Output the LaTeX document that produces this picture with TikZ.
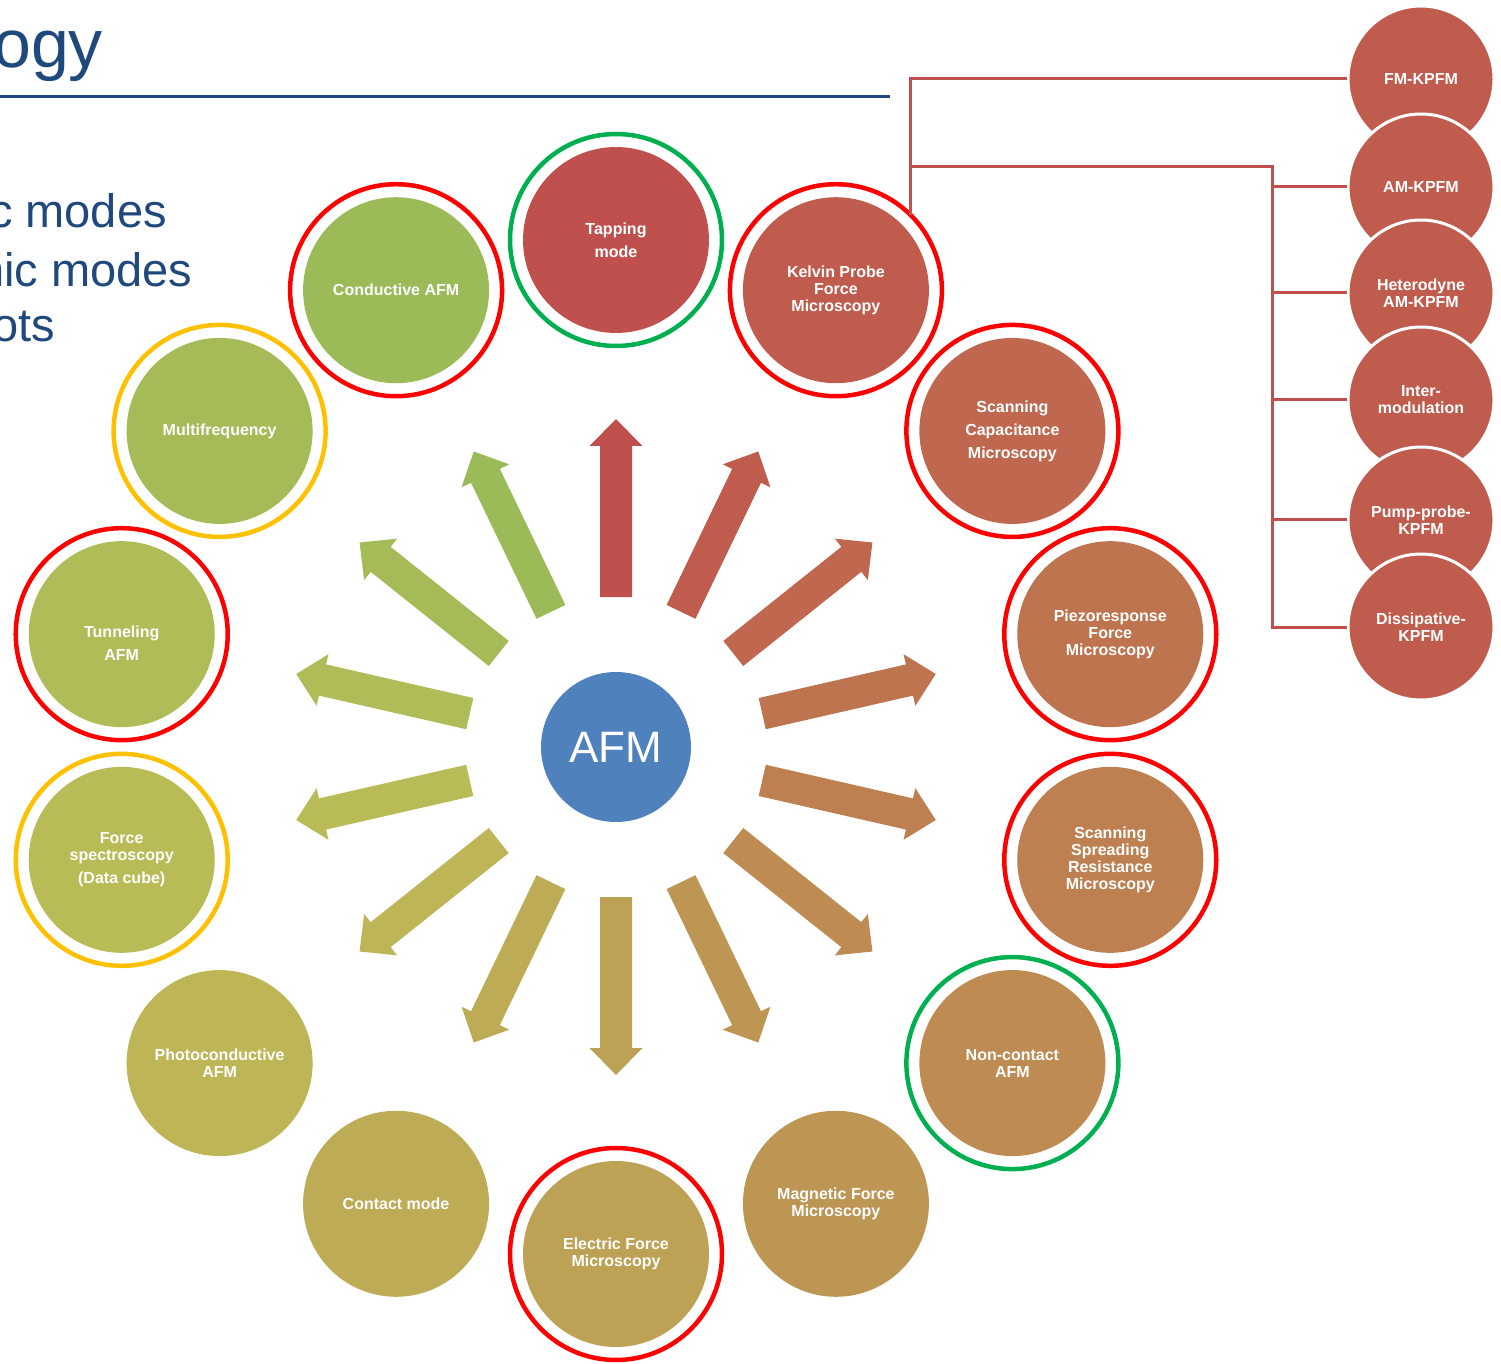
\documentclass[tikz,border=0pt]{standalone}
\usepackage{fontspec}
\setmainfont{Liberation Sans}
\usepackage{tikz}
\definecolor{tapcol}{HTML}{C0504D}
\definecolor{kelvincol}{HTML}{C05C4E}
\definecolor{scmcol}{HTML}{BF684F}
\definecolor{pfmcol}{HTML}{BF7450}
\definecolor{ssrmcol}{HTML}{BE8051}
\definecolor{nccol}{HTML}{BE8B52}
\definecolor{mfmcol}{HTML}{BE9653}
\definecolor{efmcol}{HTML}{BDA154}
\definecolor{contactcol}{HTML}{BDAB55}
\definecolor{photocol}{HTML}{BDB556}
\definecolor{forcecol}{HTML}{B9BC56}
\definecolor{tunnelcol}{HTML}{AFBC57}
\definecolor{multicol}{HTML}{A5BB58}
\definecolor{cafmcol}{HTML}{9BBB59}
\definecolor{ringred}{HTML}{FF0000}
\definecolor{ringgreen}{HTML}{00B050}
\definecolor{ringyellow}{HTML}{FFC000}
\definecolor{titleblue}{HTML}{1F497D}
\definecolor{afmblue}{HTML}{4F81BD}
\tikzset{
  mode/.style={circle,minimum size=186pt,inner sep=0pt,text=white,align=center,
    font=\fontsize{16}{17}\selectfont\bfseries},
  kpfm/.style={mode,minimum size=146pt,draw=white,line width=3pt},
  modering/.style={circle,minimum size=212pt,inner sep=0pt,outer sep=0pt,line width=4.5pt},
  link/.style={tapcol,line width=3pt},
}
\newcommand{\spoke}[2]{\fill[#1,rotate=#2] (150,-16) -- (301,-16) -- (301,-26.5) -- (328,0) -- (301,26.5) -- (301,16) -- (150,16) -- cycle;}

\begin{document}
\begin{tikzpicture}[x=1pt,y=1pt]
\useasboundingbox (-616,-616) rectangle (885,747);
% slide title and bullets, cut at the left edge
\node (title) [anchor=base west,inner sep=0pt,text=titleblue,font=\fontsize{68}{74}\selectfont] at (-623,679) {ogy};
\draw[titleblue,line width=3pt] (-616,650) -- (274,650);
\node (bulletone) [anchor=base west,inner sep=0pt,text=titleblue,font=\fontsize{47}{56}\selectfont] at (-627,519) {c modes};
\node (bullettwo) [anchor=base west,inner sep=0pt,text=titleblue,font=\fontsize{47}{56}\selectfont] at (-638,460) {nic modes};
\node (bulletthree) [anchor=base west,inner sep=0pt,text=titleblue,font=\fontsize{47}{56}\selectfont] at (-624,405) {ots};

% centre
\node (afm) [circle,minimum size=150pt,inner sep=0pt,fill=afmblue,text=white,font=\fontsize{44}{48}\selectfont] at (0,0) {AFM};

% spokes
\spoke{tapcol}{90}
\spoke{kelvincol}{64.29}
\spoke{scmcol}{38.57}
\spoke{pfmcol}{12.86}
\spoke{ssrmcol}{-12.86}
\spoke{nccol}{-38.57}
\spoke{mfmcol}{-64.29}
\spoke{efmcol}{-90}
\spoke{contactcol}{-115.71}
\spoke{photocol}{-141.43}
\spoke{forcecol}{-167.14}
\spoke{tunnelcol}{167.14}
\spoke{multicol}{141.43}
\spoke{cafmcol}{115.71}

% rings
\node (tappingring) [modering,draw=ringgreen] at (90:507) {};
\node (kelvinring) [modering,draw=ringred] at (64.29:507) {};
\node (scmring) [modering,draw=ringred] at (38.57:507) {};
\node (pfmring) [modering,draw=ringred] at (12.86:507) {};
\node (ssrmring) [modering,draw=ringred] at (-12.86:507) {};
\node (ncring) [modering,draw=ringgreen] at (-38.57:507) {};
\node (efmring) [modering,draw=ringred] at (-90:507) {};
\node (forcering) [modering,draw=ringyellow] at (-167.14:507) {};
\node (tunnelring) [modering,draw=ringred] at (167.14:507) {};
\node (multiring) [modering,draw=ringyellow] at (141.43:507) {};
\node (cafmring) [modering,draw=ringred] at (115.71:507) {};

% modes
\node (tapping) [mode,fill=tapcol] at (90:507) {Tapping\\[6pt]mode};
\node (kelvin) [mode,fill=kelvincol] at (64.29:507) {Kelvin Probe\\Force\\Microscopy};
\node (scm) [mode,fill=scmcol] at (38.57:507) {Scanning\\[6pt]Capacitance\\[6pt]Microscopy};
\node (pfm) [mode,fill=pfmcol] at (12.86:507) {Piezoresponse\\Force\\Microscopy};
\node (ssrm) [mode,fill=ssrmcol] at (-12.86:507) {Scanning\\Spreading\\Resistance\\Microscopy};
\node (noncontact) [mode,fill=nccol] at (-38.57:507) {Non-contact\\AFM};
\node (mfm) [mode,fill=mfmcol] at (-64.29:507) {Magnetic Force\\Microscopy};
\node (efm) [mode,fill=efmcol] at (-90:507) {Electric Force\\Microscopy};
\node (contact) [mode,fill=contactcol] at (-115.71:507) {Contact mode};
\node (photo) [mode,fill=photocol] at (-141.43:507) {Photoconductive\\AFM};
\node (forcespec) [mode,fill=forcecol] at (-167.14:507) {Force\\spectroscopy\\[6pt](Data cube)};
\node (tunneling) [mode,fill=tunnelcol] at (167.14:507) {\rule{0pt}{30pt}Tunneling\\[6pt]AFM};
\node (multifreq) [mode,fill=multicol] at (141.43:507) {Multifrequency};
\node (cafm) [mode,fill=cafmcol] at (115.71:507) {Conductive AFM};

% KPFM variants
\coordinate (bus) at (656,580);
\node (fmkpfm) [kpfm,fill=kelvincol] at (805,668) {FM-KPFM};
\node (amkpfm) [kpfm,fill=kelvincol] at (805,560) {AM-KPFM};
\node (hetkpfm) [kpfm,fill=kelvincol] at (805,454) {Heterodyne\\AM-KPFM};
\node (imkpfm) [kpfm,fill=kelvincol] at (805,347) {Inter-\\modulation};
\node (ppkpfm) [kpfm,fill=kelvincol] at (805,227) {Pump-probe-\\KPFM};
\node (diskpfm) [kpfm,fill=kelvincol] at (805,120) {Dissipative-\\KPFM};
\draw[link] (kelvinring.north east) |- (fmkpfm.west);
\draw[link] (kelvinring.north east |- bus) -- (bus) |- (diskpfm.west);
\draw[link] (bus |- amkpfm.west) -- (amkpfm.west);
\draw[link] (bus |- hetkpfm.west) -- (hetkpfm.west);
\draw[link] (bus |- imkpfm.west) -- (imkpfm.west);
\draw[link] (bus |- ppkpfm.west) -- (ppkpfm.west);
\end{tikzpicture}
\end{document}
